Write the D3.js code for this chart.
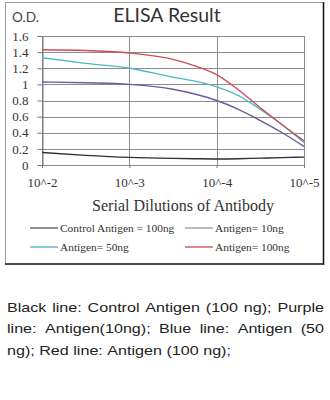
<!DOCTYPE html>
<html>
<head>
<meta charset="utf-8">
<script src="https://cdn.jsdelivr.net/npm/d3@7"></script>
<style>
  html, body { margin: 0; padding: 0; background: #fff; }
  svg { display: block; }
</style>
</head>
<body>
<svg id="chart" width="330" height="400"></svg>
<script>
// Serial dilution exponents (10^x) at which O.D. was read
const dilutions = [-2, -2.5, -3, -3.5, -3.75, -4, -4.25, -4.5, -4.75, -5];

// O.D. readings per antigen amount
const control100 = [0.155, 0.12, 0.095, 0.082, 0.078, 0.075, 0.078, 0.085, 0.092, 0.10];
const antigen10  = [1.03, 1.02, 1.00, 0.94, 0.88, 0.80, 0.69, 0.55, 0.40, 0.23];
const antigen50  = [1.33, 1.26, 1.20, 1.09, 1.04, 0.97, 0.86, 0.69, 0.50, 0.28];
const antigen100 = [1.43, 1.42, 1.39, 1.31, 1.23, 1.12, 0.93, 0.71, 0.50, 0.30];

const seriesNames = ["Control Antigen = 100ng", "Antigen= 10ng", "Antigen= 50ng", "Antigen= 100ng"];
const xTickLabels = ["10^-2", "10^-3", "10^-4", "10^-5"];
const yTicks = [0, 0.2, 0.4, 0.6, 0.8, 1, 1.2, 1.4, 1.6];

const captionLines = [
  "Black line: Control Antigen (100 ng); Purple",
  "line: Antigen(10ng); Blue line: Antigen (50",
  "ng); Red line: Antigen (100 ng);"
];

const series = [
  { name: seriesNames[0], values: control100, color: "#2e2e34", key: "#55555a" },
  { name: seriesNames[1], values: antigen10,  color: "#6a5a9e", key: "#9a93a6" },
  { name: seriesNames[2], values: antigen50,  color: "#4cb9c9", key: "#4cb0c4" },
  { name: seriesNames[3], values: antigen100, color: "#d24a58", key: "#cc4a50" }
];

const svg = d3.select("#chart");
const serif = "'Liberation Serif', 'Times New Roman', serif";
const sans = "Lato, 'Open Sans', sans-serif";

// Plot area
const plotL = 42, plotR = 304, plotT = 36, plotB = 165;
const x = d3.scaleLog().domain([1e-2, 1e-5]).range([plotL, plotR]);
const y = d3.scaleLinear().domain([0, 1.6]).range([plotB, plotT]);

// Outer frame with a darker right/bottom edge
const frame = svg.append("g");
frame.append("line").attr("x1", 5.5).attr("y1", 2.5).attr("x2", 323.5).attr("y2", 2.5)
  .attr("stroke", "#9a9a9a").attr("stroke-width", 1);
frame.append("line").attr("x1", 5.5).attr("y1", 2.5).attr("x2", 5.5).attr("y2", 264)
  .attr("stroke", "#9a9a9a").attr("stroke-width", 1);
frame.append("line").attr("x1", 323.5).attr("y1", 2).attr("x2", 323.5).attr("y2", 264.5)
  .attr("stroke", "#111").attr("stroke-width", 1.5);
frame.append("line").attr("x1", 5).attr("y1", 264).attr("x2", 324.2).attr("y2", 264)
  .attr("stroke", "#111").attr("stroke-width", 1.5);

// Horizontal gridlines
svg.append("g").selectAll("line").data(yTicks).join("line")
  .attr("x1", plotL).attr("x2", plotR)
  .attr("y1", d => Math.round(y(d)) + 0.5).attr("y2", d => Math.round(y(d)) + 0.5)
  .attr("stroke", "#8c8c8c").attr("stroke-width", 1);

// Vertical gridlines
const xTickVals = [1e-2, 1e-3, 1e-4, 1e-5];
svg.append("g").selectAll("line").data(xTickVals).join("line")
  .attr("x1", d => Math.round(x(d)) + 0.5).attr("x2", d => Math.round(x(d)) + 0.5)
  .attr("y1", plotT).attr("y2", plotB)
  .attr("stroke", "#8c8c8c").attr("stroke-width", 1);

// y axis
const yAxis = d3.axisLeft(y).tickValues(yTicks).tickSize(5).tickPadding(9)
  .tickFormat(d => d3.format("")(d));
const gy = svg.append("g").attr("transform", `translate(${plotL + 0.5},0)`).call(yAxis);
gy.select(".domain").attr("stroke", "#777");
gy.selectAll(".tick line").attr("stroke", "#777");
gy.selectAll(".tick text").attr("font-family", serif).attr("font-size", 13).attr("fill", "#333");

// x axis
const xAxis = d3.axisBottom(x).tickValues(xTickVals).tickSize(3).tickPadding(10)
  .tickFormat((d, i) => xTickLabels[i]);
const gx = svg.append("g").attr("transform", `translate(0,${plotB})`).call(xAxis);
gx.select(".domain").remove();
gx.selectAll(".tick line").attr("stroke", "#777");
gx.selectAll(".tick text").attr("font-family", serif).attr("font-size", 13).attr("fill", "#333");

// Curves
const line = d3.line()
  .x((d, i) => x(Math.pow(10, dilutions[i])))
  .y(d => y(d))
  .curve(d3.curveMonotoneX);
svg.append("g").selectAll("path").data(series).join("path")
  .attr("d", d => line(d.values))
  .attr("fill", "none")
  .attr("stroke", d => d.color)
  .attr("stroke-width", 1.4);

// Titles
svg.append("text").attr("x", 12).attr("y", 22).text("O.D.")
  .attr("font-family", sans).attr("font-size", 13.5).attr("fill", "#444");
svg.append("text").attr("x", 167).attr("y", 22).attr("text-anchor", "middle").text("ELISA Result")
  .attr("font-family", sans).attr("font-size", 19.5).attr("fill", "#333");
svg.append("text").attr("x", 183).attr("y", 210.5).attr("text-anchor", "middle")
  .text("Serial Dilutions of Antibody")
  .attr("font-family", serif).attr("font-size", 16).attr("fill", "#333");

// Legend
const legendPos = [[30, 228], [185, 228], [30, 247], [185, 247]];
const lg = svg.append("g").selectAll("g").data(series).join("g")
  .attr("transform", (d, i) => `translate(${legendPos[i][0]},${legendPos[i][1]})`);
lg.append("line").attr("x1", 0).attr("x2", 28).attr("y1", 0).attr("y2", 0)
  .attr("stroke", d => d.key).attr("stroke-width", 1.3);
lg.append("text").attr("x", 30).attr("y", 3.5).text(d => d.name)
  .attr("font-family", serif).attr("font-size", 11.4).attr("fill", "#333");

// Caption: slightly widened Arial-style text, justified except for the last line
const capLeft = 7, capRight = 324, capFont = 13.4, lastWidth = 223;
const capFamily = "'Liberation Sans', Arial, sans-serif";
const probe = svg.append("text").attr("font-family", capFamily).attr("font-size", capFont)
  .text(captionLines[captionLines.length - 1]);
const stretch = lastWidth / probe.node().getComputedTextLength();
const spaceW = probe.text("a a").node().getComputedTextLength() -
  probe.text("aa").node().getComputedTextLength();
probe.remove();

const cap = svg.append("g")
  .attr("transform", `translate(${capLeft},0) scale(${stretch},1)`);
const capSpan = (capRight - capLeft) / stretch;
captionLines.forEach((txt, li) => {
  const baseline = 312 + li * 21.3;
  const words = txt.split(" ");
  const nodes = words.map(w => cap.append("text").text(w)
    .attr("font-family", capFamily)
    .attr("font-size", capFont).attr("fill", "#222").attr("y", baseline));
  const widths = nodes.map(n => n.node().getComputedTextLength());
  const total = d3.sum(widths);
  const last = li === captionLines.length - 1;
  const gap = last ? spaceW : (capSpan - total) / (words.length - 1);
  let cx = 0;
  nodes.forEach((n, i) => { n.attr("x", cx); cx += widths[i] + gap; });
});
</script>
</body>
</html>
